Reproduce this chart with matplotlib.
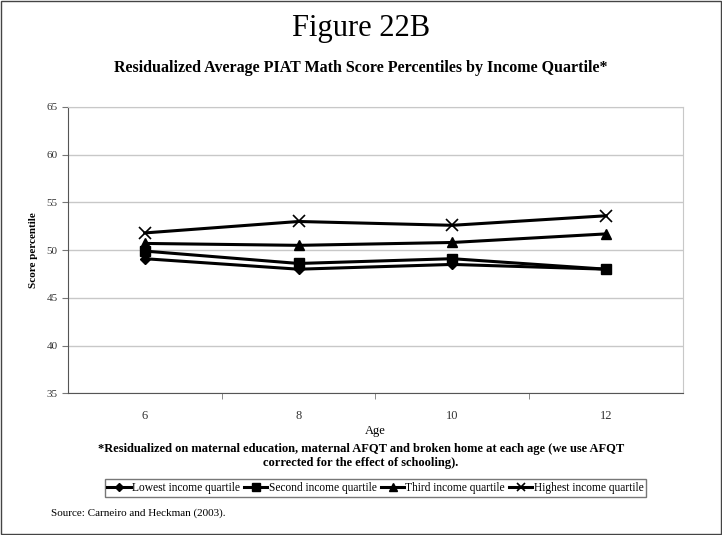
import matplotlib
matplotlib.use("Agg")
import matplotlib.pyplot as plt
from matplotlib.patches import Rectangle

plt.rcParams['font.family'] = ['Liberation Serif', 'DejaVu Serif']

ages = ['6', '8', '10', '12']
lowest = [49.1, 48.0, 48.5, 48.0]
second = [49.9, 48.6, 49.1, 48.0]
third = [50.7, 50.5, 50.8, 51.7]
highest = [51.8, 53.0, 52.6, 53.6]
series_names = ['Lowest income quartile', 'Second income quartile',
                'Third income quartile', 'Highest income quartile']
yticks = [35, 40, 45, 50, 55, 60, 65]

fig = plt.figure(figsize=(7.22, 5.35), dpi=100)
ax = fig.add_axes([0.094, 0.265, 0.852, 0.535])

x = range(len(ages))
styles = [dict(marker='D', markersize=5),
          dict(marker='s', markersize=7),
          dict(marker='^', markersize=7),
          dict(marker='x', markersize=8, markeredgewidth=1.2)]
for vals, name, st in zip([lowest, second, third, highest], series_names, styles):
    ax.plot(x, vals, color='black', linewidth=2.2, label=name, **st)

ax.set_xlim(-0.5, len(ages) - 0.5)
ax.set_ylim(35, 65)
ax.set_yticks(yticks)
ax.set_xticks(list(x))
ax.set_xticklabels(ages)
ax.set_xticks([i + 0.5 for i in range(len(ages) - 1)], minor=True)
ax.tick_params(axis='x', which='major', length=0, labelsize=9, pad=12, colors='#333333')
ax.tick_params(axis='x', which='minor', length=4, color='#777777')
ax.tick_params(axis='y', length=4, labelsize=8, colors='#333333', color='#777777')
ax.yaxis.grid(True, color='#c8c8c8', linewidth=1)
ax.set_axisbelow(True)
for s in ['top', 'right']:
    ax.spines[s].set_color('#c8c8c8')
for s in ['left', 'bottom']:
    ax.spines[s].set_color('#555555')

ax.set_ylabel('Score percentile', fontsize=8, fontweight='bold', labelpad=6)
ax.set_xlabel('Age', fontsize=9, labelpad=2)

fig.text(0.5, 0.947, 'Figure 22B', ha='center', va='center', fontsize=22)
fig.text(0.5, 0.872, 'Residualized Average PIAT Math Score Percentiles by Income Quartile*',
         ha='center', va='center', fontsize=11.5, fontweight='bold')
fig.text(0.5, 0.148, '*Residualized on maternal education, maternal AFQT and broken home at each age (we use AFQT\ncorrected for the effect of schooling).',
         ha='center', va='center', fontsize=9, fontweight='bold', linespacing=1.25)

leg = fig.legend(loc='center', bbox_to_anchor=(0.52, 0.088), ncol=4, fontsize=8.3,
                 frameon=True, fancybox=False, edgecolor='#555555', handlelength=2.0,
                 handletextpad=0.1, columnspacing=0.4, borderpad=0.25, markerscale=0.8)
leg.get_frame().set_linewidth(1.0)

fig.text(0.07, 0.041, 'Source: Carneiro and Heckman (2003).', ha='left', va='center', fontsize=8)

fig.patches.append(Rectangle((0.002, 0.002), 0.996, 0.996, transform=fig.transFigure,
                             fill=False, edgecolor='#444444', linewidth=1))

fig.savefig('out.png', dpi=100)
